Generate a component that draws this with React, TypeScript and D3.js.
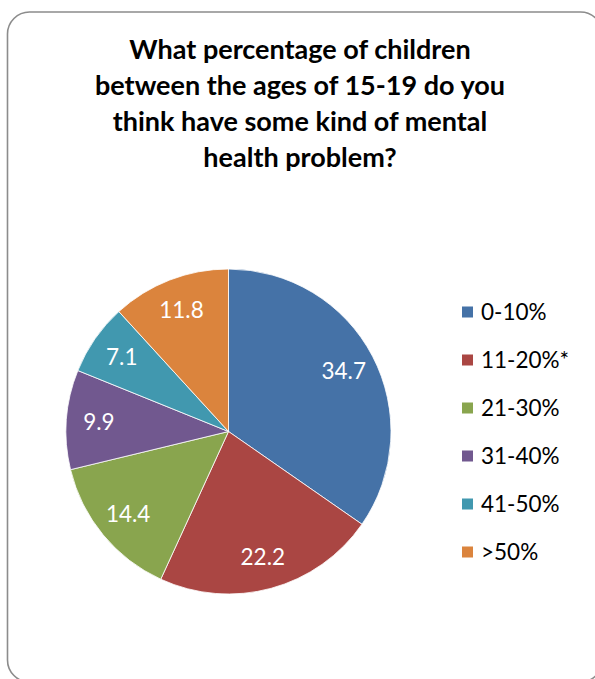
import React from "react";
import * as d3 from "d3";

const categories = ["0-10%", "11-20%*", "21-30%", "31-40%", "41-50%", ">50%"];
const values = [34.7, 22.2, 14.4, 9.9, 7.1, 11.8];
const colors = ["#4572A7", "#AA4643", "#89A54E", "#71588F", "#4198AF", "#DB843D"];
const titleLines = [
  "What percentage of children",
  "between the ages of 15-19 do you",
  "think have some kind of mental",
  "health problem?",
];

const W = 595;
const H = 679;
const cx = 228.5;
const cy = 431.5;
const R = 162.5;
const FONT = "Lato, 'Open Sans', sans-serif";

export default function App() {
  const data = categories.map((c, i) => ({ c, v: values[i], color: colors[i] }));
  const pie = d3.pie<any>().sort(null).value((d) => d.v);
  const arcs = pie(data);
  const arc = d3.arc<any>().innerRadius(0).outerRadius(R);
  const labelArc = d3.arc<any>().innerRadius(R * 0.8).outerRadius(R * 0.8);

  const legendY = d3.scalePoint<string>().domain(categories).range([312, 552]);

  return (
    <svg
      width={W}
      height={H}
      style={{ position: "absolute", left: 0, top: 0, background: "#fff" }}
    >
      <rect x={7.5} y={12} width={595} height={670} rx={22} ry={22} fill="#fff" stroke="#8c8c8c" strokeWidth={1.6} />
      {titleLines.map((t, i) => (
        <text
          key={i}
          x={300}
          y={59 + i * 36}
          textAnchor="middle"
          fontFamily={FONT}
          fontWeight="bold"
          fontSize={27}
          fill="#000"
        >
          {t}
        </text>
      ))}
      <g transform={`translate(${cx},${cy})`}>
        {arcs.map((a, i) => (
          <path key={i} d={arc(a) as string} fill={a.data.color} stroke="#fff" strokeWidth={0.8} />
        ))}
        {arcs.map((a, i) => {
          const [x, y] = labelArc.centroid(a);
          return (
            <text
              key={i}
              x={x}
              y={y}
              dy="0.35em"
              textAnchor="middle"
              fontFamily={FONT}
              fontSize={22.5}
              fill="#fff"
            >
              {a.data.v.toFixed(1)}
            </text>
          );
        })}
      </g>
      {categories.map((c, i) => {
        const y = legendY(c) as number;
        return (
          <g key={c}>
            <rect x={462} y={y - 5.5} width={11} height={11} fill={colors[i]} />
            <text x={481} y={y} dy="0.35em" fontFamily={FONT} fontSize={22.5} fill="#000">
              {c}
            </text>
          </g>
        );
      })}
    </svg>
  );
}
